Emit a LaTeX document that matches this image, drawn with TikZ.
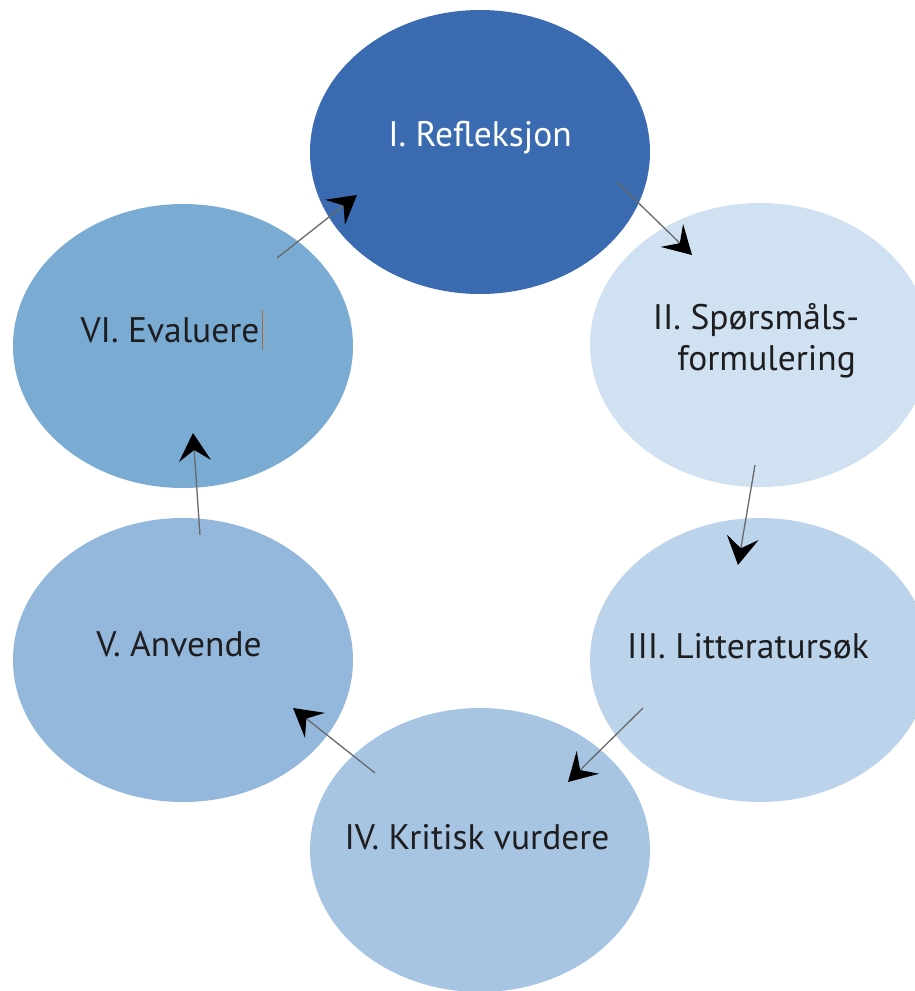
\documentclass[tikz,border=0pt]{standalone}
\usepackage{fontspec}
\setmainfont{PT Sans}
\usetikzlibrary{shapes.geometric,arrows.meta}
\definecolor{cI}{RGB}{58,107,177}
\definecolor{cII}{RGB}{208,225,241}
\definecolor{cIII}{RGB}{187,211,235}
\definecolor{cIV}{RGB}{167,197,226}
\definecolor{cV}{RGB}{148,184,220}
\definecolor{cVI}{RGB}{122,171,211}
\definecolor{txt}{RGB}{30,30,32}
\definecolor{lin}{RGB}{105,105,105}
\definecolor{caret}{RGB}{170,110,60}
\begin{document}
\begin{tikzpicture}[x=1pt,y=-1pt,
  bubble/.style={ellipse, draw=none, minimum width=340pt, minimum height=284pt, inner sep=0pt},
  lab/.style={font=\fontsize{35.5}{41}\selectfont, text=txt, inner sep=0pt, align=center},
  conn/.style={draw=lin, line width=1.3pt, -{Stealth[length=28pt, width=32pt, inset=11pt, color=black, fill=black]}}]
\useasboundingbox (0,0) rectangle (915,991);
\fill[white] (0,0) rectangle (915,991);
% ellipses
\node[bubble, fill=cI]   (n1) at (480,152) {};
\node[bubble, fill=cII]  (n2) at (760,345) {};
\node[bubble, fill=cIII] (n3) at (760,660) {};
\node[bubble, fill=cIV]  (n4) at (480,850) {};
\node[bubble, fill=cV]   (n5) at (183,660) {};
\node[bubble, fill=cVI]  (n6) at (183,346) {};
% labels
\node[lab, text=white] (t1) at (480,138) {I. Refleksjon};
\node[lab] (t2) at (756,341) {II. Spørsmåls-\\\hspace*{0.6em}formulering};
\node[lab] (t3) at (748,646) {III. Litteratursøk};
\node[lab] (t4) at (477,837) {IV. Kritisk vurdere};
\node[lab] (t5) at (179,644) {V. Anvende};
\node[lab] (t6) at (170,330) {VI. Evaluere};
\coordinate (c1) at (262,310); \coordinate (c2) at (262,350);
\draw[caret, line width=1pt] (c1) -- (c2);
% connector end points
\coordinate (s61) at (277,258); \coordinate (e61) at (357,195);
\coordinate (s12) at (617,182); \coordinate (e12) at (692,255);
\coordinate (s23) at (755,465); \coordinate (e23) at (738,565);
\coordinate (s34) at (643,708); \coordinate (e34) at (568,782);
\coordinate (s45) at (375,773); \coordinate (e45) at (293,708);
\coordinate (s56) at (200,535); \coordinate (e56) at (193,433);
\draw[conn] (s61) -- (e61);
\draw[conn] (s12) -- (e12);
\draw[conn] (s23) -- (e23);
\draw[conn] (s34) -- (e34);
\draw[conn] (s45) -- (e45);
\draw[conn] (s56) -- (e56);
\end{tikzpicture}
\end{document}
